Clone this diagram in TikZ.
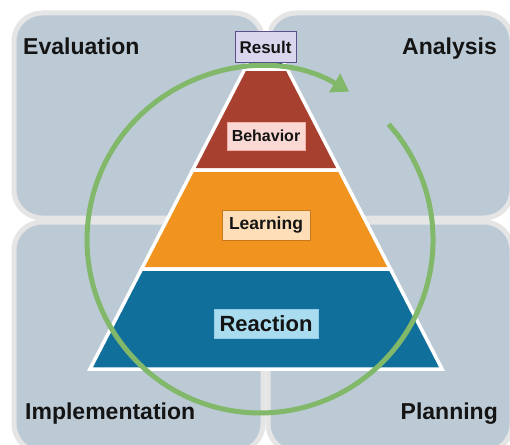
\documentclass[tikz,border=0pt]{standalone}
\usepackage{fontspec}
\setmainfont{Liberation Sans}
\usetikzlibrary{arrows.meta}

\definecolor{panelfill}{RGB}{188,202,214}
\definecolor{panelrim}{RGB}{229,229,229}
\definecolor{tipblue}{RGB}{33,66,104}
\definecolor{behavred}{RGB}{168,64,48}
\definecolor{learnorange}{RGB}{240,147,31}
\definecolor{reactblue}{RGB}{16,112,155}
\definecolor{loopgreen}{RGB}{130,184,106}

\tikzset{x=1pt, y=-1pt, % one unit is one point, y runs downwards
      panel/.style={ % the four rounded quarter panels
      fill=panelfill, draw=panelrim,
      line width=5pt, rounded corners=28pt},
      level/.style={ % pyramid layers with a white rim
      draw=white, line width=3.5pt, line join=miter},
      phase/.style={ % corner titles
      font=\bfseries\fontsize{23}{27}\selectfont,
      text=black!92, inner sep=0pt},
      tag/.style={ % small boxes naming each layer
      text=black!92, inner sep=0pt, line width=1pt},
      loopline/.style={ % the green loop with its head
      draw=loopgreen, line width=5pt,
      -{Triangle[length=17pt,width=21pt]}}}

\begin{document}
\begin{tikzpicture}
      \clip (0,0) rectangle (510,444);
      % quarter panels
      \draw[panel] (14,13) rectangle (263,218);
      \draw[panel] (268,13) rectangle (512,218);
      \draw[panel] (14,222) rectangle (263,452);
      \draw[panel] (268,222) rectangle (512,452);
      % pyramid, top to bottom
      \coordinate (apex) at (266,28);
      \filldraw[level, fill=tipblue] (apex) -- (287.2,69) -- (244.8,69) -- cycle;
      \filldraw[level, fill=behavred] (244.8,69) -- (287.2,69) -- (339.3,170) -- (192.7,170) -- cycle;
      \filldraw[level, fill=learnorange] (192.7,170) -- (339.3,170) -- (390.4,269) -- (141.6,269) -- cycle;
      \filldraw[level, fill=reactblue] (141.6,269) -- (390.4,269) -- (442,369) -- (90,369) -- cycle;
      % loop around the pyramid
      \draw[loopline] (388.6,124.2) arc[start angle=-42, end angle=301, radius=173];
      % layer names
      \node[tag, draw={rgb,255:red,92;green,80;blue,140}, fill={rgb,255:red,218;green,214;blue,238},
            minimum width=61, minimum height=30, font=\bfseries\fontsize{17}{20}\selectfont] (result) at (265.5,47) {Result};
      \node[tag, draw={rgb,255:red,238;green,178;blue,170}, fill={rgb,255:red,250;green,216;blue,212},
            minimum width=78, minimum height=28, font=\bfseries\fontsize{16}{19}\selectfont] (behavior) at (266,136) {Behavior};
      \node[tag, draw={rgb,255:red,200;green,120;blue,30}, fill={rgb,255:red,253;green,222;blue,184},
            minimum width=88, minimum height=30, font=\bfseries\fontsize{17.5}{20}\selectfont] (learning) at (266,225) {Learning};
      \node[tag, draw={rgb,255:red,150;green,205;blue,230}, fill={rgb,255:red,170;green,220;blue,240},
            minimum width=104, minimum height=29, font=\bfseries\fontsize{22}{25}\selectfont] (reaction) at (266,323.5) {Reaction};
      % phase titles in the corners
      \node[phase, anchor=base west] (evaluation) at (23,54) {Evaluation};
      \node[phase, anchor=base east] (analysis) at (497,54) {Analysis};
      \node[phase, anchor=base west] (implementation) at (25,419) {Implementation};
      \node[phase, anchor=base east] (planning) at (498,419) {Planning};
\end{tikzpicture}
\end{document}
